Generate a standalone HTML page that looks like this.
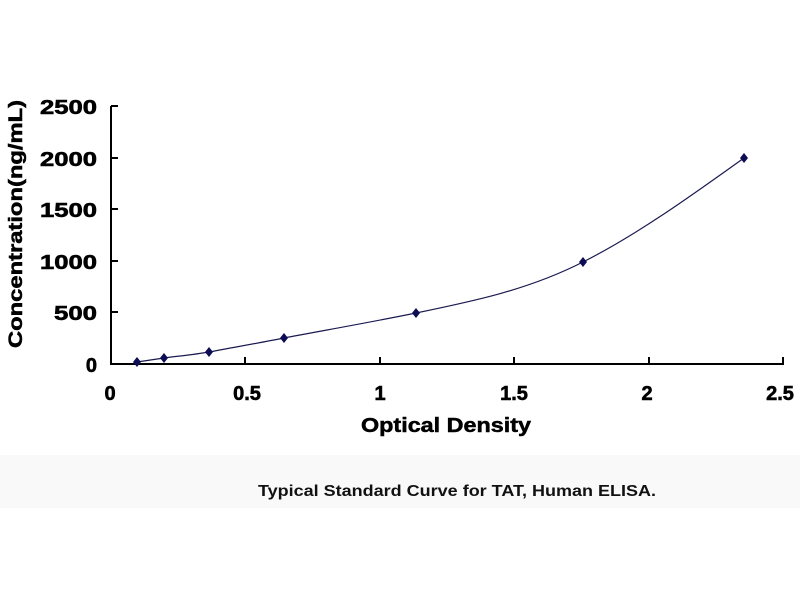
<!DOCTYPE html>
<html><head><meta charset="utf-8"><style>
html,body{margin:0;padding:0;background:#fff;}
svg{display:block;font-family:"Liberation Sans",Arial,sans-serif;font-weight:bold;}
</style></head><body>
<svg width="800" height="600" viewBox="0 0 800 600">
<rect x="0" y="455" width="800" height="53" fill="#f9f9f9"/>
<g stroke="#000" stroke-width="2" fill="none">
<line x1="111" y1="106" x2="111" y2="365"/>
<line x1="110" y1="364" x2="784" y2="364"/>
<line x1="111" y1="106" x2="118" y2="106"/>
<line x1="111" y1="158" x2="118" y2="158"/>
<line x1="111" y1="209" x2="118" y2="209"/>
<line x1="111" y1="261" x2="118" y2="261"/>
<line x1="111" y1="312" x2="118" y2="312"/>
<line x1="245" y1="364" x2="245" y2="357"/>
<line x1="380" y1="364" x2="380" y2="357"/>
<line x1="514" y1="364" x2="514" y2="357"/>
<line x1="649" y1="364" x2="649" y2="357"/>
<line x1="783" y1="364" x2="783" y2="357"/>
</g>
<g font-size="20" text-anchor="end" fill="#000" stroke="#000" stroke-width="0.6">
<text x="97" y="114" textLength="57" lengthAdjust="spacingAndGlyphs">2500</text>
<text x="97" y="166" textLength="57" lengthAdjust="spacingAndGlyphs">2000</text>
<text x="97" y="217" textLength="57" lengthAdjust="spacingAndGlyphs">1500</text>
<text x="97" y="269" textLength="57" lengthAdjust="spacingAndGlyphs">1000</text>
<text x="97" y="320" textLength="43" lengthAdjust="spacingAndGlyphs">500</text>
<text x="97" y="372">0</text>
</g>
<g font-size="20" text-anchor="middle" fill="#000" stroke="#000" stroke-width="0.6">
<text x="110" y="400">0</text>
<text x="247" y="400">0.5</text>
<text x="380" y="400">1</text>
<text x="514" y="400">1.5</text>
<text x="647" y="400">2</text>
<text x="780" y="400">2.5</text>
</g>
<text x="361" y="432" font-size="20" textLength="170" lengthAdjust="spacingAndGlyphs" stroke="#000" stroke-width="0.5">Optical Density</text>
<text transform="translate(22,348) rotate(-90)" font-size="19" textLength="248" lengthAdjust="spacingAndGlyphs" stroke="#000" stroke-width="0.5">Concentration(ng/mL)</text>
<path d="M137,362 C146,360.7 155,359.3 164,358 C179,356 194,354.7 209,352 C234,347.3 259,343 284,338 C328,329.7 372,322 416,313 C472,301.5 528,290 583,262 C637,234.7 691,196 744,158" fill="none" stroke="#1a1a50" stroke-width="1.2"/>
<g fill="#0d0d55">
<path d="M137,357 l4,5 l-4,5 l-4,-5z"/>
<path d="M164,353 l4,5 l-4,5 l-4,-5z"/>
<path d="M209,347 l4,5 l-4,5 l-4,-5z"/>
<path d="M284,333 l4,5 l-4,5 l-4,-5z"/>
<path d="M416,308 l4,5 l-4,5 l-4,-5z"/>
<path d="M583,257 l4,5 l-4,5 l-4,-5z"/>
<path d="M744,153 l4,5 l-4,5 l-4,-5z"/>
</g>
<text x="258" y="496" font-size="16" textLength="398" lengthAdjust="spacingAndGlyphs" fill="#111">Typical Standard Curve for TAT, Human ELISA.</text>
</svg>
</body></html>
